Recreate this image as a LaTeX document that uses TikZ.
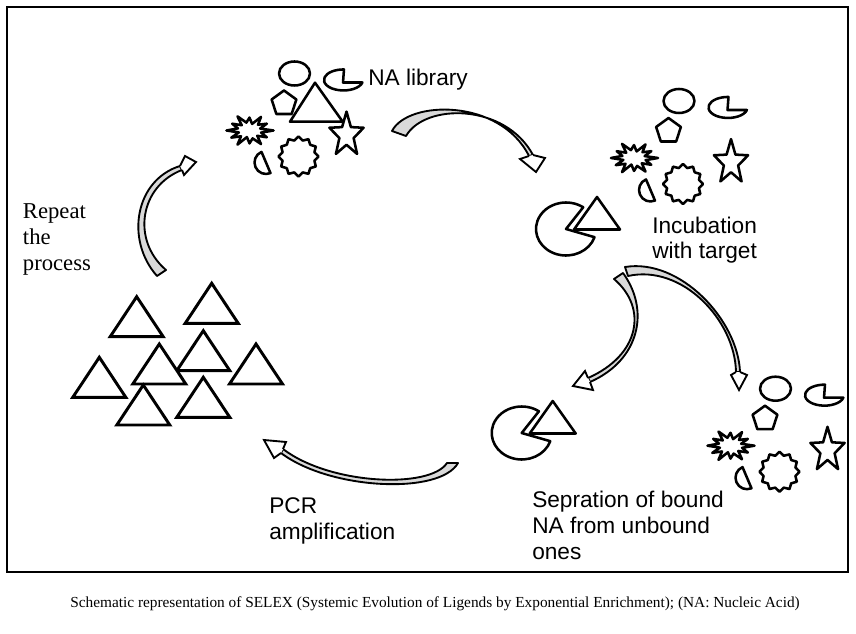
\documentclass[tikz,border=0pt]{standalone}
\usepackage{fontspec}
\setmainfont{Liberation Serif}
\setsansfont{Liberation Sans}

\begin{document}
\begin{tikzpicture}[
    x=0.75pt, y=-0.75pt,
    shp/.style={draw, fill=white, line width=1.9pt, line join=round},
    tri/.style={draw, fill=white, line width=2.2pt},
    band/.style={draw, fill=gray!30, line width=1.4pt, line join=round},
    head/.style={draw, fill=white, line width=1.4pt},
    lbl/.style={anchor=base west, inner sep=0pt, align=left, font=\sffamily\fontsize{17}{19.2}\selectfont},
    pool/.pic={
        % oval
        \draw[shp] (0,0) ellipse [x radius=15.5, y radius=12];
        % notched oval
        \draw[shp] (48.5,9) -- (67.9,9) arc[start angle=14, end angle=271.5, x radius=19.5, y radius=10.5] -- cycle;
        % pentagon
        \draw[shp] (-10.5,30) +(-90:13) -- +(-18:13) -- +(54:13) -- +(126:13) -- +(198:13) -- cycle;
        % burst
        \draw[shp, shift={(-45,57)}, yscale=0.68] (0:24)
            \foreach \o/\n [count=\k from 0] in {24/12, 20/11, 23/12, 19/10, 24/12, 21/11, 23/12, 20/11, 24/12, 19/10, 23/12, 20/11}
            { -- ({30*\k}:\o) -- ({30*\k+15}:\n) } -- cycle;
        % star
        \draw[shp, shift={(52,61.5)}, yscale=1.3] (-90:18)
            \foreach \k in {0,...,4} { -- ({-54+72*\k}:7.5) -- ({-18+72*\k}:18) } -- cycle;
        % seal
        \draw[shp, shift={(4,83)}] (-90:20)
            \foreach \k in {0,...,11} { -- ({-75+30*\k}:16.5) -- ({-60+30*\k}:20) } -- cycle;
        % half disc
        \draw[shp, shift={(-28.5,89)}] (247:11.5) arc[start angle=247, end angle=67, radius=11.5] -- cycle;
    },
    bound/.pic={
        \draw[shp] (0,0) -- (18:30 and 26.5) arc[start angle=18, end angle=305, x radius=30, y radius=26.5] -- cycle;
        \draw[shp] (8,0.5) -- (54,0.5) -- (31,-32) -- cycle;
    }
]
    \useasboundingbox (0,0) rectangle (856,634);
    \draw[line width=1.7pt] (7,7) rectangle (848,572);

    % NA library
    \pic at (294.5,73.5) {pool};
    \draw[shp] (290,121.7) -- (342.7,121.7) -- (315,82.7) -- cycle;
    \node[lbl] (lib) at (368,85.7) {NA library};

    % Incubation
    \pic at (679,101) {pool};
    \pic at (566,229) {bound};
    \node[lbl] (incub) at (652,259) {Incubation\\with target};

    % Separation
    \pic at (775.5,388.7) {pool};
    \pic at (521.7,433) {bound};
    \node[lbl] (sep) at (532,559) {Sepration of bound\\NA from unbound\\ones};

    % PCR amplification
    \foreach \x/\y in {136.7/296.7, 211.7/283.3, 203.3/330.7, 159.3/344, 256/344, 99.3/357.3, 143.3/385, 203.3/377.3}
        \draw[tri] (\x,\y) -- ++(26.5,40) -- ++(-53,0) -- cycle;
    \node[lbl] (pcr) at (269,539.5) {PCR\\amplification};
    \node[lbl, font=\rmfamily\fontsize{17}{19.5}\selectfont] (rep) at (22.7,271) {Repeat\\the\\process};

    % Arrows
    \draw[band] (392,131) .. controls (408,100) and (500,98) .. (529,156) -- (533,155) .. controls (505,103) and (425,103) .. (406,136) -- cycle;
    \draw[head] (529,156) -- (520,159) -- (536,172) -- (545,158) -- (533,155);

    \draw[band] (623,273) .. controls (650,310) and (640,360) .. (590,382) -- (588,378) .. controls (640,355) and (648,308) .. (614,279) -- cycle;
    \draw[head] (590,382) -- (593,390) -- (573,386) -- (585,371) -- (588,378);

    \draw[band] (625,267) .. controls (680,258) and (738,320) .. (740,372) -- (736,372) .. controls (735,320) and (682,264) .. (628,276) -- cycle;
    \draw[head] (740,372) -- (747,375) -- (739,390) -- (731,375) -- (736,372);

    \draw[band] (458,463) .. controls (440,495) and (330,490) .. (281,453) -- (283,449) .. controls (330,485) and (430,489) .. (447,463) -- cycle;
    \draw[head] (281,453) -- (274,458) -- (264,440) -- (286,442) -- (283,449);

    \draw[band] (157,276) .. controls (125,240) and (135,180) .. (180,166) -- (182,170) .. controls (140,186) and (131,240) .. (166,270) -- cycle;
    \draw[head] (180,166) -- (185,156) -- (196,162) -- (184,175) -- (182,170);

    % Caption
    \node[anchor=base, font=\rmfamily\fontsize{11.5}{13}\selectfont] (cap) at (435,607) {Schematic representation of SELEX (Systemic Evolution of Ligends by Exponential Enrichment); (NA: Nucleic Acid)};
\end{tikzpicture}
\end{document}
